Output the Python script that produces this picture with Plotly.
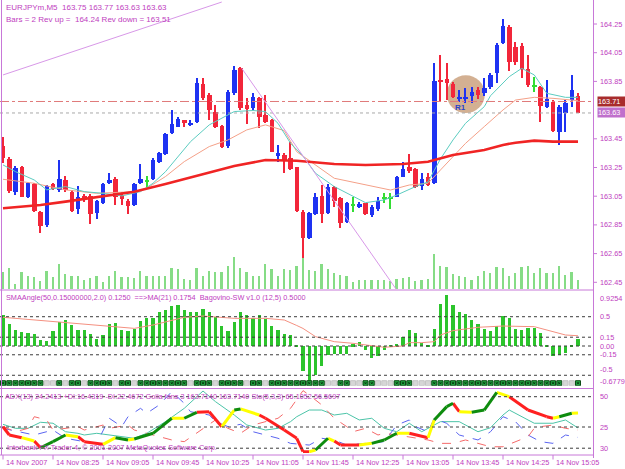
import plotly.graph_objects as go

# ---------------------------------------------------------------- data
symbol_header = "EURJPYm,M5  163.75 163.77 163.63 163.63"
rev_header = "Bars = 2 Rev up =  164.24 Rev down = 163.51"
sma_header = "SMAAngle(50,0.15000000,2.0) 0.1250  ==>MA(21) 0.1754  Bagovino-SW v1.0 (12,5) 0.5000"
adx_header = "ADX(13) 24.2413 +DI:16.4319 -DI:22.4672 Golla fans 3 163.7140 163.7140 Sto(5,3,3) 65.1052 56.5697"
copyright_text = "Interbank FX Trader 4, © 2001-2007 MetaQuotes Software Corp."

time_labels = ["14 Nov 2007", "14 Nov 08:25", "14 Nov 09:05", "14 Nov 09:45", "14 Nov 10:25",
               "14 Nov 11:05", "14 Nov 11:45", "14 Nov 12:25", "14 Nov 13:05", "14 Nov 13:45",
               "14 Nov 14:25", "14 Nov 15:05"]
time_label_bars = [0, 8, 16, 24, 32, 40, 48, 56, 64, 72, 80, 88]

price_ticks = [164.25, 164.05, 163.85, 163.45, 163.25, 163.05, 162.85, 162.65, 162.45]
price_tick_labels = ["164.25", "164.05", "163.85", "163.45", "163.25", "163.05", "162.85", "162.65", "162.45"]
price_marks = [163.71, 163.63]
price_mark_labels = ["163.71", "163.63"]

opens = [163.40, 163.307, 163.082, 163.252, 163.047, 163.133, 162.943, 162.85, 163.136, 163.094,
         163.163, 163.082, 162.959, 163.052, 163.052, 162.931, 163.001, 163.14, 163.168, 163.059,
         163.015, 162.99, 163.14, 163.156, 163.168, 163.286, 163.345, 163.489, 163.535, 163.579,
         163.551, 163.57, 163.832, 163.756, 163.64, 163.54, 163.40, 163.767, 163.942, 163.686,
         163.663, 163.733, 163.616, 163.581, 163.331, 163.338, 163.314, 163.252, 162.942, 162.757,
         162.926, 163.051, 162.935, 163.112, 163.035, 162.873, 162.989, 162.977, 163.0, 162.919,
         162.958, 163.035, 163.04, 163.047, 163.186, 163.251, 163.237, 163.121, 163.181, 163.14,
         163.86, 163.864, 163.832, 163.732, 163.732, 163.748, 163.79, 163.767, 163.809, 163.906,
         164.115, 164.227, 164.087, 164.097, 163.934, 163.818, 163.809, 163.669, 163.709, 163.50,
         163.63, 163.72, 163.75]
highs = [163.465, 163.326, 163.261, 163.261, 163.152, 163.14, 162.95, 163.129, 163.145, 163.303,
         163.191, 163.094, 163.124, 163.066, 163.066, 163.024, 163.145, 163.214, 163.187, 163.082,
         163.029, 163.145, 163.275, 163.191, 163.314, 163.361, 163.493, 163.651, 163.60, 163.581,
         163.581, 163.872, 163.872, 163.767, 163.686, 163.547, 163.79, 163.958, 163.953, 163.733,
         163.767, 163.744, 163.756, 163.586, 163.407, 163.349, 163.43, 163.256, 162.954, 162.942,
         163.07, 163.128, 163.135, 163.121, 163.047, 163.012, 163.047, 163.012, 163.005, 162.989,
         163.042, 163.075, 163.07, 163.191, 163.291, 163.344, 163.244, 163.209, 163.214, 163.976,
         164.034, 163.976, 163.848, 163.79, 163.802, 163.809, 163.813, 163.871, 163.906, 164.115,
         164.283, 164.243, 164.127, 164.115, 164.034, 163.883, 163.818, 163.86, 163.72, 163.685,
         163.72, 163.895, 163.77]
lows = [163.28, 163.07, 163.059, 163.043, 163.036, 162.943, 162.792, 162.838, 163.094, 163.082,
        163.082, 162.943, 162.926, 163.013, 162.854, 162.889, 162.996, 163.136, 162.99, 162.99,
        162.926, 162.982, 163.136, 163.117, 163.163, 163.28, 163.338, 163.484, 163.53, 163.53,
        163.54, 163.563, 163.721, 163.581, 163.523, 163.384, 163.384, 163.756, 163.651, 163.554,
        163.651, 163.523, 163.558, 163.355, 163.291, 163.214, 163.233, 162.943, 162.617, 162.75,
        162.919, 162.861, 162.926, 162.977, 162.826, 162.861, 162.942, 162.966, 162.919, 162.907,
        162.949, 163.0, 162.958, 163.042, 163.181, 163.209, 163.105, 163.093, 163.121, 163.135,
        163.716, 163.72, 163.732, 163.709, 163.702, 163.702, 163.725, 163.748, 163.795, 163.836,
        164.111, 163.925, 163.964, 163.871, 163.813, 163.778, 163.57, 163.662, 163.50, 163.407,
        163.497, 163.67, 163.63]
closes = [163.314, 163.089, 163.245, 163.047, 163.14, 162.95, 162.843, 163.122, 163.103, 163.168,
          163.094, 162.95, 163.047, 163.029, 162.924, 163.015, 163.133, 163.163, 163.043, 163.029,
          162.985, 163.136, 163.168, 163.156, 163.303, 163.349, 163.484, 163.554, 163.588, 163.558,
          163.563, 163.842, 163.733, 163.651, 163.53, 163.391, 163.779, 163.93, 163.663, 163.656,
          163.74, 163.60, 163.57, 163.361, 163.349, 163.298, 163.24, 162.95, 162.757, 162.935,
          163.047, 162.926, 163.116, 163.019, 162.861, 163.0, 162.989, 162.996, 162.926, 162.977,
          163.019, 163.035, 163.04, 163.181, 163.237, 163.228, 163.116, 163.167, 163.128, 163.855,
          163.846, 163.841, 163.739, 163.739, 163.739, 163.778, 163.755, 163.802, 163.895, 164.104,
          164.236, 163.987, 163.987, 163.934, 163.825, 163.818, 163.679, 163.725, 163.507, 163.674,
          163.70, 163.79, 163.63]
volumes = [50, 62, 15, 50, 38, 35, 25, 55, 35, 75, 45, 38, 38, 28, 32, 38, 22, 38, 55, 35,
           35, 32, 55, 38, 40, 38, 38, 62, 60, 30, 28, 62, 38, 55, 50, 50, 70, 95, 62, 50,
           38, 38, 75, 60, 38, 60, 57, 68, 93, 58, 53, 76, 60, 48, 43, 38, 20, 28, 26, 26,
           26, 26, 23, 30, 33, 36, 23, 26, 30, 106, 70, 66, 46, 38, 36, 26, 38, 53, 48, 66,
           63, 40, 48, 66, 70, 48, 63, 48, 48, 68, 43, 51, 26]

# moving averages on price (bar index)
ma_slow_idx = [0, 6, 10, 16, 21, 26, 32, 37, 42, 47, 53, 58, 64, 68, 72, 74, 77, 80, 82, 85, 88, 92]
ma_slow_val = [162.966, 162.989, 163.012, 163.047, 163.081, 163.135, 163.205, 163.26, 163.302, 163.297,
               163.274, 163.267, 163.274, 163.29, 163.337, 163.353, 163.372, 163.407, 163.423, 163.437,
               163.43, 163.43]
ma_fast_idx = [0, 2, 5, 7, 10, 13, 16, 19, 22, 24, 26, 28, 30, 33, 35, 37, 40, 42, 44, 46,
               48, 50, 53, 56, 58, 61, 63, 66, 68, 69, 70, 72, 74, 77, 78, 81, 83, 85, 87, 90, 92]
ma_fast_val = [163.268, 163.221, 163.163, 163.094, 163.117, 163.082, 163.07, 163.052, 163.082, 163.14,
               163.221, 163.326, 163.43, 163.547, 163.593, 163.64, 163.647, 163.64, 163.558, 163.419,
               163.33, 163.21, 163.117, 163.047, 163.005, 163.024, 163.058, 163.117, 163.15, 163.23,
               163.31, 163.442, 163.558, 163.674, 163.75, 163.883, 163.941, 163.895, 163.767, 163.739,
               163.739]
ma_mid_idx = [0, 5, 10, 15, 21, 23, 26, 29, 33, 36, 39, 42, 45, 47, 53, 58, 62, 65, 68, 70,
              72, 74, 77, 80, 82, 85, 88, 92]
ma_mid_val = [163.168, 163.14, 163.094, 163.07, 163.082, 163.105, 163.187, 163.291, 163.396, 163.442,
              163.512, 163.547, 163.507, 163.36, 163.175, 163.128, 163.093, 163.128, 163.14, 163.233,
              163.326, 163.418, 163.535, 163.651, 163.72, 163.739, 163.732, 163.716]

# drawn objects
trend_lines = [((0, 163.895), (35, 164.403)), ((38.2, 163.941), (63.0, 162.396))]
pivot_circle = (74.05, 163.761, 3.04, 0.132)   # centre bar, centre price, radius bars, radius price
pivot_label = ("R1", 72.0, 163.67)

# SMAAngle panel
sma_angle = [0.529, 0.387, 0.273, 0.244, 0.227, 0.216, 0.114, 0.09, 0.261, 0.415,
             0.444, 0.358, 0.285, 0.273, 0.205, 0.131, 0.188, 0.375, 0.398, 0.285,
             0.256, 0.302, 0.432, 0.49, 0.49, 0.585, 0.626, 0.683, 0.70, 0.626,
             0.585, 0.585, 0.643, 0.585, 0.50, 0.346, 0.256, 0.415, 0.585, 0.541,
             0.49, 0.529, 0.473, 0.341, 0.273, 0.20, 0.188, 0.017, -0.42, -0.61,
             -0.495, -0.341, -0.154, -0.14, -0.125, -0.125, 0.03, 0.07, -0.07, -0.2,
             -0.17, -0.07, 0.005, 0.03, 0.16, 0.285, 0.23, 0.05, 0.02, 0.30,
             0.716, 0.87, 0.70, 0.585, 0.545, 0.455, 0.387, 0.29, 0.256, 0.341,
             0.517, 0.49, 0.302, 0.285, 0.318, 0.318, 0.227, 0.005, -0.17, -0.154,
             -0.114, 0.017, 0.125]
sma_ma_idx = [0, 5, 10, 16, 21, 24, 26, 29, 32, 34, 37, 42, 45, 47, 48, 50, 53, 56, 58, 61,
              64, 65, 67, 69, 70, 72, 76, 80, 85, 88, 90, 92]
sma_ma_val = [0.49, 0.444, 0.398, 0.341, 0.301, 0.358, 0.415, 0.49, 0.512, 0.50,
              0.472, 0.472, 0.444, 0.35, 0.30, 0.16, 0.074, 0.046, 0.017, -0.022,
              0.0, 0.057, 0.057, 0.074, 0.188, 0.262, 0.319, 0.341, 0.33, 0.245,
              0.188, 0.175]
sma_levels = [0.5, 0.15, 0.0, -0.15, -0.5]
sma_axis_vals = [0.9254, 0.5, 0.15, 0.0, -0.15, -0.5, -0.6779]
sma_axis_labels = ["0.9254", "0.5", "0.15", "0.00", "-0.15", "-0.5", "-0.6779"]
bago_signal = [1, 1, 1, 1, 1, 1, 1, 0, 0, 1, 0, 1, 1, 0, 1, 1, 1, 1, 0, 1,
               1, 0, 1, 1, 1, 1, 1, 1, 1, 1, 0, 1, 1, 1, 0, 1, 1, 1, 1, 0,
               1, 1, 0, 1, 1, 1, 1, 1,
               1, 1, 1, 1, 0, 0, 1, 1, 0, 0, 1, 1, 0, 0, 0, 1, 1, 1, 0, 0, 0,
               1, 1, 1, 1, 1, 1, 1, 1, 1, 1, 1, 1, 1, 1, 1, 1, 1, 1, 1, 1, 1,
               0, 0, 1]
bago_level = -0.635

# ADX panel
adx_idx = [0, 2, 4, 6, 8, 10, 12, 13, 15, 17, 21, 23, 26, 29, 32, 34, 37, 39, 42, 44,
           46, 47, 49, 51, 53, 55, 57, 59, 61, 63, 65, 67, 70, 73, 76, 78, 80, 81, 85, 88,
           90, 92]
adx_val = [27.2, 23.9, 23.9, 28.9, 28.1, 21.1, 19.8, 18.4, 19.8, 18.4,
           15.7, 19.8, 29.4, 40.4, 54.7, 45.9, 34.9, 26.7, 22.5, 23.9,
           29.4, 33.5, 39.0, 39.0, 34.9, 36.3, 30.8, 32.2, 23.9, 21.1,
           28.1, 21.1, 29.4, 29.4, 21.1, 24.4, 34.9, 39.0, 28.1, 28.1,
           30.8, 24.2]
pdi_idx = [0, 5, 8, 10, 13, 15, 17, 19, 20, 22, 23, 25, 27, 29, 30, 33, 34, 36, 38, 40,
           42, 44, 46, 48, 49, 51, 53, 55, 58, 61, 63, 65, 66, 68, 69, 71, 73, 76, 78, 80,
           82, 84, 86, 88, 90, 92]
pdi_val = [23.9, 18.4, 22.5, 15.7, 12.9, 11.5, 32.2, 25.3, 33.5, 40.4,
           36.3, 43.2, 54.2, 44.5, 37.6, 34.9, 29.4, 25.3, 27.2, 21.1,
           18.4, 15.7, 11.5, 10.4, 10.1, 15.7, 14.3, 10.1, 11.5, 12.9,
           26.6, 30.8, 25.3, 21.1, 32.2, 28.0, 18.4, 14.3, 21.1, 33.5,
           29.4, 18.4, 12.9, 11.5, 18.4, 16.4]
mdi_idx = [0, 2, 4, 5, 7, 8, 12, 13, 16, 17, 20, 21, 23, 25, 27, 29, 32, 34, 36, 38,
           40, 42, 44, 46, 48, 49, 51, 53, 55, 56, 58, 60, 61, 63, 65, 68, 70, 72, 74, 76,
           78, 80, 82, 84, 85, 86, 88, 90, 92]
mdi_val = [25.3, 21.1, 23.9, 33.5, 30.8, 22.5, 25.3, 22.5, 26.6, 23.9,
           26.6, 22.5, 19.8, 17.0, 14.3, 12.9, 23.9, 30.8, 23.9, 19.8,
           26.6, 29.4, 32.2, 40.4, 55.0, 51.4, 43.2, 32.2, 25.3, 21.1,
           23.9, 18.4, 19.8, 18.4, 17.0, 14.3, 11.5, 11.5, 14.3, 11.5,
           8.7, 8.7, 12.9, 17.0, 23.9, 25.3, 26.6, 23.9, 22.5]
sto_idx = [0, 1, 3, 5, 6, 8, 10, 12, 13, 16, 18, 20, 21, 24, 27, 29, 31, 33, 35, 37,
           38, 41, 42, 45, 47, 48, 49, 50, 52, 53, 54, 57, 59, 61, 63, 65, 68, 69, 71, 72,
           73, 75, 77, 79, 81, 84, 87, 88, 89, 91, 92]
sto_val = [25.2, 18.4, 16.2, 13.4, 7.9, 12.9, 18.4, 17.0, 12.9, 10.7,
           16.2, 14.3, 15.1, 19.8, 32.2, 32.2, 37.1, 37.6, 25.2, 39.0,
           39.9, 34.9, 32.2, 22.5, 15.7, 4.6, 4.6, 6.0, 15.7, 13.4,
           10.1, 10.1, 11.5, 14.3, 19.8, 19.8, 16.2, 30.8, 41.8, 44.6,
           37.6, 37.1, 39.0, 53.6, 50.0, 39.0, 33.5, 32.2, 33.5, 36.3,
           36.5]
sto_state = ['r', 'r', 'y', 'r', 'g', 'g', 'y', 'r', 'r', 'y',
             'g', 'y', 'g', 'g', 'y', 'g', 'r', 'r', 'y', 'g',
             'y', 'r', 'r', 'r', 'r', 'r', 'y', 'g', 'y', 'r',
             'r', 'y', 'g', 'g', 'y', 'r', 'y', 'g', 'g', 'r',
             'y', 'g', 'g', 'y', 'r', 'r', 'r', 'y', 'g', 'y',
             'y']
adx_levels = [50, 25, 7.5]
adx_axis_labels = ["50", "25", "30"]

# ---------------------------------------------------------------- style / geometry
W, H = 625, 469
PR = 593.5          # right edge of chart area (px)
BAR_PX = 6.25       # pixel distance between bars
X0_PX = 3.0         # pixel of bar 0
FONT = "Liberation Sans, Arial, sans-serif"
TXT = "#c040c0"
BORDER = "#c878d8"
UP, DN, DOJI = "#1e32f2", "#f2263a", "#33dd33"


def pxx(p):
    return p / W


def pxy(p):
    return 1 - p / H


def bar_at(p):
    return (p - X0_PX) / BAR_PX


# price scale: 164.25 at y=24px, 143.5 px per 1.00
def price_at(p):
    return 164.25 - (p - 24) / 143.5


def adx_at(p):
    return (457.3 - p) / 1.212


fig = go.Figure()
n = len(opens)
idx = list(range(n))

# volumes (overlay axis y2)
fig.add_trace(go.Bar(x=idx, y=volumes, width=0.3, marker=dict(color="#86dc86", line_width=0),
                     yaxis="y2", hoverinfo="skip"))

# moving averages
fig.add_trace(go.Scatter(x=ma_mid_idx, y=ma_mid_val, mode="lines",
                         line=dict(color="#f4a088", width=1), hoverinfo="skip"))
fig.add_trace(go.Scatter(x=ma_fast_idx, y=ma_fast_val, mode="lines",
                         line=dict(color="#5cccc0", width=1), hoverinfo="skip"))
fig.add_trace(go.Scatter(x=ma_slow_idx, y=ma_slow_val, mode="lines",
                         line=dict(color="#f02424", width=2.6), hoverinfo="skip"))

# candles
cols = [UP if c > o else (DN if c < o else DOJI) for o, c in zip(opens, closes)]
wick_h = [h - l for h, l in zip(highs, lows)]
body_base = [min(o, c) if o != c else o - 0.0035 for o, c in zip(opens, closes)]
body_h = [max(abs(c - o), 0.007) for o, c in zip(opens, closes)]
fig.add_trace(go.Bar(x=idx, y=wick_h, base=lows, width=0.2,
                     marker=dict(color=cols, line_width=0), hoverinfo="skip"))
fig.add_trace(go.Bar(x=idx, y=body_h, base=body_base, width=0.72,
                     marker=dict(color=cols, line_width=0), hoverinfo="skip"))

# SMAAngle histogram + MA
fig.add_trace(go.Bar(x=idx, y=sma_angle, base=0, width=0.5, yaxis="y3",
                     marker=dict(color="#2cc42c", line_width=0), hoverinfo="skip"))
fig.add_trace(go.Scatter(x=sma_ma_idx, y=sma_ma_val, mode="lines", yaxis="y3",
                         line=dict(color="#f49080", width=1), hoverinfo="skip"))
sq_cols = ["#22a040" if s else "#d6d6d6" for s in bago_signal]
sq_line = ["#0b4a14" if s else "#c4c4c4" for s in bago_signal]
fig.add_trace(go.Scatter(x=idx, y=[bago_level] * n, mode="markers", yaxis="y3",
                         marker=dict(symbol="square", size=5, color=sq_cols,
                                     line=dict(color=sq_line, width=1)), hoverinfo="skip"))
fig.add_trace(go.Scatter(x=[i for i in idx if bago_signal[i]],
                         y=[bago_level] * sum(bago_signal), mode="markers", yaxis="y3",
                         marker=dict(symbol="x-thin", size=2, line=dict(color="#083a10", width=1)),
                         hoverinfo="skip"))

# ADX panel
fig.add_trace(go.Scatter(x=adx_idx, y=adx_val, mode="lines", yaxis="y4",
                         line=dict(color="#4cc4a8", width=1), hoverinfo="skip"))
fig.add_trace(go.Scatter(x=pdi_idx, y=pdi_val, mode="lines", yaxis="y4",
                         line=dict(color="#5a64f0", width=1, dash="dash"), hoverinfo="skip"))
fig.add_trace(go.Scatter(x=mdi_idx, y=mdi_val, mode="lines", yaxis="y4",
                         line=dict(color="#f46a6a", width=1, dash="dash"), hoverinfo="skip"))
sto_colors = {"r": "#ff2020", "y": "#ffff00", "g": "#0e8c0e"}
for key, colr in sto_colors.items():
    xs, ys = [], []
    for k in range(len(sto_idx) - 1):
        if sto_state[k] == key:
            xs += [sto_idx[k], sto_idx[k + 1], None]
            ys += [sto_val[k], sto_val[k + 1], None]
    fig.add_trace(go.Scatter(x=xs, y=ys, mode="lines", yaxis="y4",
                             line=dict(color=colr, width=3), hoverinfo="skip"))

# ---------------------------------------------------------------- shapes
shapes = []
x_left, x_right = 0, PR / W


def hline(yref, yv, color, dash, width=1):
    shapes.append(dict(type="line", xref="paper", yref=yref, x0=x_left, x1=x_right,
                       y0=yv, y1=yv, line=dict(color=color, width=width, dash=dash)))


# price marks
hline("y", price_marks[0], "#e07a7a", "dashdot")
hline("y", price_marks[1], "#a8a8a8", "dot")
for lv in sma_levels:
    hline("y3", lv, "#3c3c3c", "dot")
for lv in adx_levels:
    hline("y4", lv, "#3c3c3c", "dot")

# trend lines
for (a, b) in trend_lines:
    shapes.append(dict(type="line", xref="x", yref="y", x0=a[0], y0=a[1], x1=b[0], y1=b[1],
                       line=dict(color="#d898e8", width=1)))
cx, cy, rx, ry = pivot_circle
shapes.append(dict(type="circle", xref="x", yref="y", x0=cx - rx, x1=cx + rx, y0=cy - ry, y1=cy + ry,
                   fillcolor="rgba(196,150,110,0.75)", line=dict(width=0), layer="below"))

# borders
for (x0, y0, x1, y1) in [(1.5, 0, 1.5, 455), (PR, 0, PR, 458), (0, 290, PR, 290),
                         (0, 388.5, PR, 388.5), (0, 455, PR, 455)]:
    shapes.append(dict(type="line", xref="paper", yref="paper", x0=pxx(x0), x1=pxx(x1),
                       y0=pxy(y0), y1=pxy(y1), line=dict(color=BORDER, width=1)))
# price axis ticks
for pv in price_ticks:
    shapes.append(dict(type="line", xref="paper", yref="y", x0=pxx(PR), x1=pxx(PR + 3.5),
                       y0=pv, y1=pv, line=dict(color=BORDER, width=1)))
# time ticks
for b in time_label_bars:
    shapes.append(dict(type="line", xref="x", yref="paper", x0=b, x1=b, y0=pxy(455), y1=pxy(459.5),
                       line=dict(color=BORDER, width=1)))

# ---------------------------------------------------------------- annotations
ann = []


def text(x, y, s, size=7.3, xref="paper", yref="paper", xanchor="left", yanchor="middle",
         color=TXT, **kw):
    ann.append(dict(x=x, y=y, xref=xref, yref=yref, text=s, showarrow=False, xanchor=xanchor,
                    yanchor=yanchor, font=dict(family=FONT, size=size, color=color), **kw))


text(pxx(4), pxy(7), symbol_header, size=8)
text(pxx(4), pxy(19), rev_header, size=8)
text(pxx(4), pxy(297.5), sma_header)
text(pxx(3), pxy(396), adx_header)
text(pxx(5), pxy(447.5), copyright_text)
for b, s in zip(time_label_bars, time_labels):
    ann.append(dict(x=b, y=pxy(462), xref="x", yref="paper", text=s, showarrow=False,
                    xanchor="left", yanchor="middle", xshift=1,
                    font=dict(family=FONT, size=7.3, color=TXT)))
for pv, s in zip(price_ticks, price_tick_labels):
    text(pxx(598), pv, s, yref="y")
mark_bg = ["#a82c2c", "#c070cc"]
for pv, s, bg in zip(price_marks, price_mark_labels, mark_bg):
    text(pxx(596.5), pv, s, yref="y", color="white", bgcolor=bg, borderpad=0, width=27, align="left")
last = len(sma_axis_vals) - 1
for k, (v, s) in enumerate(zip(sma_axis_vals, sma_axis_labels)):
    if k == 0:
        text(pxx(598), v, s, yref="y3", yanchor="top")
    elif k == last:
        text(pxx(598), v, s, yref="y3", yanchor="bottom", yshift=-2)
    elif k == last - 1:
        text(pxx(598), v, s, yref="y3", yanchor="bottom", yshift=-1)
    else:
        text(pxx(598), v, s, yref="y3")
for v, s in zip(adx_levels, adx_axis_labels):
    text(pxx(598), v, s, yref="y4")
lab, lx, ly = pivot_label
ann.append(dict(x=lx, y=ly, xref="x", yref="y", text="<b>" + lab + "</b>", showarrow=False,
                xanchor="left", yanchor="middle",
                font=dict(family=FONT, size=8, color="#2a44c8")))

# ---------------------------------------------------------------- layout
fig.update_layout(
    width=W, height=H, margin=dict(l=0, r=0, t=0, b=0),
    paper_bgcolor="white", plot_bgcolor="white", showlegend=False,
    barmode="overlay", bargap=0,
    xaxis=dict(domain=[0, PR / W], range=[bar_at(0), bar_at(PR)], visible=False, fixedrange=True),
    yaxis=dict(domain=[pxy(289), pxy(1)], range=[price_at(289), price_at(1)], visible=False),
    yaxis2=dict(domain=[pxy(289), pxy(1)], overlaying="y", range=[0, 3 * 288], visible=False),
    yaxis3=dict(domain=[pxy(385.7), pxy(291.8)], range=[-0.6779, 0.9254], visible=False, anchor="x"),
    yaxis4=dict(domain=[pxy(453), pxy(389)], range=[adx_at(453), adx_at(389)], visible=False, anchor="x"),
    shapes=shapes, annotations=ann,
)

fig.write_html("out.html")
